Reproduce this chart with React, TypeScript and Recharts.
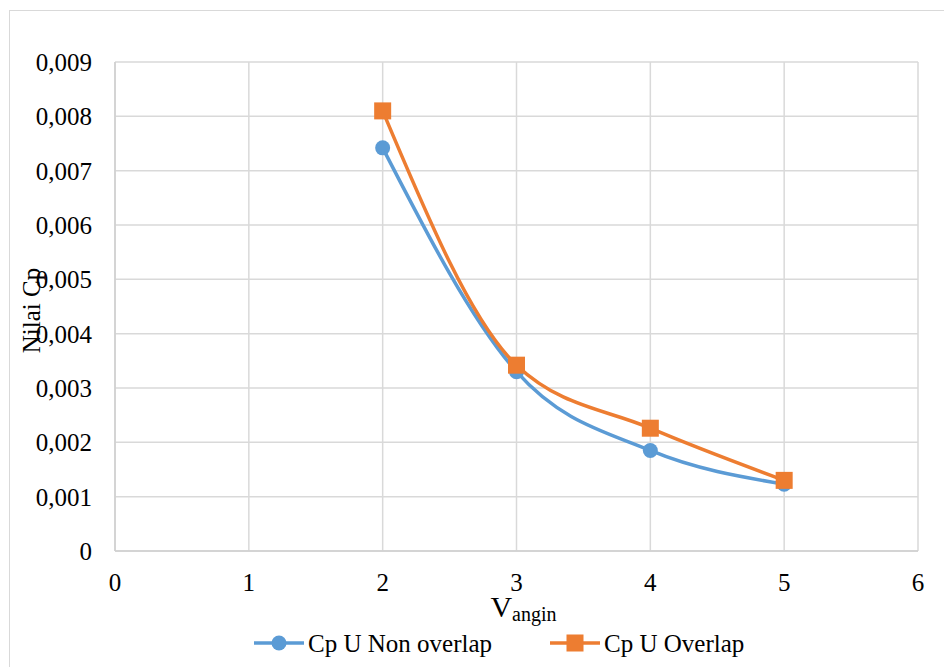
import React from 'react';
import { LineChart, Line, XAxis, YAxis, CartesianGrid, Label } from 'recharts';

// Wind speed (m/s) at which each power coefficient was measured
const speeds = [2, 3, 4, 5];
// Power coefficient, Savonius U-blade without overlap
const cpNonOverlap = [0.00742, 0.0033, 0.00185, 0.00123];
// Power coefficient, Savonius U-blade with overlap
const cpOverlap = [0.0081, 0.00342, 0.00226, 0.0013];

const seriesNames = ['Cp U Non overlap', 'Cp U Overlap'];
const seriesColors = ['#5B9BD5', '#ED7D31'];

const xTicks = [0, 1, 2, 3, 4, 5, 6];
const yTicks = [0, 0.001, 0.002, 0.003, 0.004, 0.005, 0.006, 0.007, 0.008, 0.009];

const data = speeds.map((v, i) => ({
  v,
  nonOverlap: cpNonOverlap[i],
  overlap: cpOverlap[i],
}));

const FONT = '"Liberation Serif", "Times New Roman", serif';
const W = 944;
const H = 667;
const LINE_W = 3.5;

const formatCp = (v: number) => (v === 0 ? '0' : v.toFixed(3).replace('.', ','));

const XTick = (props: any) => {
  const { x, y, payload } = props;
  return (
    <text x={x} y={y + 32} textAnchor="middle" fontFamily={FONT} fontSize={25} fill="#000">
      {payload.value}
    </text>
  );
};

const YTick = (props: any) => {
  const { x, y, payload } = props;
  return (
    <text x={x - 15} y={y + 9} textAnchor="end" fontFamily={FONT} fontSize={25} fill="#000">
      {formatCp(payload.value)}
    </text>
  );
};

const CircleDot = (props: any) => {
  const { cx, cy, index } = props;
  if (cx == null || cy == null) return null;
  return <circle key={`c-${index}`} cx={cx} cy={cy} r={7.5} fill={seriesColors[0]} />;
};

const SquareDot = (props: any) => {
  const { cx, cy, index } = props;
  if (cx == null || cy == null) return null;
  const s = 17;
  return <rect key={`s-${index}`} x={cx - s / 2} y={cy - s / 2} width={s} height={s} fill={seriesColors[1]} />;
};

const XTitle = (props: any) => {
  const vb = props.viewBox;
  const cx = vb.x + vb.width / 2 + 7;
  return (
    <text x={cx} y={vb.y + 66} textAnchor="middle" fontFamily={FONT} fill="#000">
      <tspan fontSize={30}>V</tspan>
      <tspan fontSize={20} dy={4}>angin</tspan>
    </text>
  );
};

const YTitle = (props: any) => {
  const vb = props.viewBox;
  const cx = vb.x + 25;
  const cy = vb.y + vb.height / 2 + 4;
  return (
    <text
      x={cx}
      y={cy}
      transform={`rotate(-90, ${cx}, ${cy})`}
      textAnchor="middle"
      fontFamily={FONT}
      fontSize={25}
      fill="#000"
    >
      Nilai Cp
    </text>
  );
};

// Legend entries: left edge of each swatch
const legendStarts = [254, 550];

const LegendOverlay = () => (
  <svg width={W} height={H} style={{ position: 'absolute', left: 0, top: 0, pointerEvents: 'none' }}>
    {seriesNames.map((name, i) => {
      const x0 = legendStarts[i];
      const y0 = 643;
      return (
        <g key={name}>
          <line x1={x0} y1={y0} x2={x0 + 50} y2={y0} stroke={seriesColors[i]} strokeWidth={LINE_W} />
          {i === 0 ? (
            <circle cx={x0 + 25} cy={y0} r={7.5} fill={seriesColors[i]} />
          ) : (
            <rect x={x0 + 25 - 8.5} y={y0 - 8.5} width={17} height={17} fill={seriesColors[i]} />
          )}
          <text x={x0 + 54} y={y0 + 9} fontFamily={FONT} fontSize={25} fill="#000">
            {name}
          </text>
        </g>
      );
    })}
  </svg>
);

export default function App() {
  return (
    <div
      style={{
        position: 'fixed',
        left: 0,
        top: 0,
        width: W,
        height: H,
        overflow: 'hidden',
        background: '#fff',
      }}
    >
      <div
        style={{
          position: 'absolute',
          left: 9,
          top: 10,
          width: W + 20,
          height: H + 20,
          border: '1.5px solid #d9d9d9',
          boxSizing: 'border-box',
        }}
      />
      <div style={{ position: 'absolute', left: 0, top: 0 }}>
        <LineChart width={W} height={H} data={data} margin={{ top: 62, right: 26, left: 15, bottom: 86 }}>
          <CartesianGrid stroke="#d9d9d9" strokeWidth={1.5} />
          <XAxis
            dataKey="v"
            type="number"
            domain={[0, 6]}
            ticks={xTicks}
            interval={0}
            height={30}
            tick={<XTick />}
            tickLine={false}
            axisLine={{ stroke: '#cfcfcf', strokeWidth: 1.5 }}
            label={<Label content={<XTitle />} />}
          />
          <YAxis
            type="number"
            domain={[0, 0.009]}
            ticks={yTicks}
            interval={0}
            width={100}
            tick={<YTick />}
            tickLine={false}
            axisLine={{ stroke: '#cfcfcf', strokeWidth: 1.5 }}
            label={<Label content={<YTitle />} />}
          />
          <Line
            type="monotone"
            dataKey="nonOverlap"
            name={seriesNames[0]}
            stroke={seriesColors[0]}
            strokeWidth={LINE_W}
            dot={<CircleDot />}
            isAnimationActive={false}
          />
          <Line
            type="monotone"
            dataKey="overlap"
            name={seriesNames[1]}
            stroke={seriesColors[1]}
            strokeWidth={LINE_W}
            dot={<SquareDot />}
            isAnimationActive={false}
          />
        </LineChart>
      </div>
      <LegendOverlay />
    </div>
  );
}
